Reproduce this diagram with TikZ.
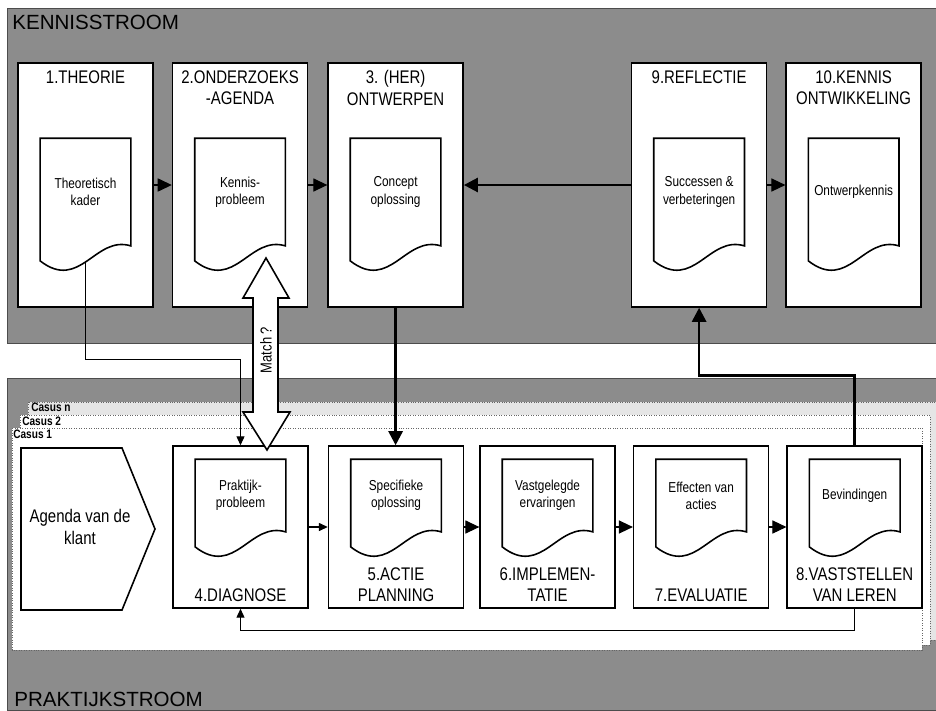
\documentclass[tikz,border=0pt]{standalone}
\usepackage{fontspec}
\setmainfont{Liberation Sans}
\newfontfamily\narrowfont[FakeStretch=0.82]{Liberation Sans}
\usetikzlibrary{arrows.meta,positioning,calc}

\begin{document}
\begin{tikzpicture}[
  x=0.02cm, y=-0.02cm,
  every node/.style={font=\narrowfont\fontsize{10.4}{12.2}\selectfont},
  panel/.style={draw=black!70, fill=black!45},
  casus/.style={draw=black!60, densely dotted, line width=0.4pt},
  stage/.style={draw, fill=white, line width=0.9pt, minimum width=2.7cm},
  topstage/.style={stage, minimum height=4.88cm},
  lowstage/.style={stage, minimum height=3.24cm},
  doc/.style={minimum width=1.8cm, align=center, inner sep=1pt,
              font=\narrowfont\fontsize{8.2}{9.8}\selectfont},
  topdoc/.style={doc, minimum height=2.14cm},
  lowdoc/.style={doc, minimum height=1.44cm},
  title/.style={align=center, inner sep=1pt},
  casuslabel/.style={inner sep=0pt, anchor=west,
                     font=\narrowfont\fontsize{7}{8}\selectfont\bfseries},
  flow/.style={-{Triangle[length=8pt,width=7.5pt]}, line width=0.6pt},
  thinflow/.style={-{Triangle[length=5pt,width=4.5pt]}, line width=0.6pt},
  heavy/.style={-{Triangle[length=8pt,width=8pt]}, line width=1.5pt},
]
\useasboundingbox (0,0) rectangle (936,710);

% the two streams
\draw[panel] (7,8) rectangle (936,343);
\draw[panel] (7,378) rectangle (936,710);
\node[anchor=north west, inner sep=0pt, font=\fontsize{11.7}{14}\selectfont] (kennis) at (12,15) {KENNISSTROOM};
\node[anchor=south west, inner sep=0pt, font=\fontsize{11.7}{14}\selectfont] (praktijk) at (14,707) {PRAKTIJKSTROOM};

% cases
\draw[casus, fill=black!10] (28,402) rectangle (936,640);
\draw[casus, fill=white] (20,415) rectangle (930,645);
\draw[casus, fill=white] (12,428) rectangle (922,650);
\node[casuslabel] (casusn) at (31,407) {Casus n};
\node[casuslabel] (casus2) at (22,421) {Casus 2};
\node[casuslabel] (casus1) at (13,434) {Casus 1};

\draw[line width=0.9pt, fill=white] (21,448) -- (122,448) -- (155,529) -- (122,610) -- (21,610) -- cycle;
\node[align=center, font=\narrowfont\fontsize{10.4}{12}\selectfont] (agenda) at (80,527) {Agenda van de\\klant};

% knowledge stream
\node[topstage] (b1) at (85.5,185) {};
\node[topstage, right=0.36cm of b1] (b2) {};
\node[topstage, right=0.38cm of b2] (b3) {};
\node[topstage, right=3.34cm of b3] (b9) {};
\node[topstage, right=0.36cm of b9] (b10) {};

\node[title, below=0.12cm of b1.north] (t1) {1.THEORIE};
\node[title, below=0.12cm of b2.north] (t2) {2.ONDERZOEKS\\-AGENDA};
\node[title, below=0.12cm of b3.north] (t3) {3. (HER)\\ONTWERPEN};
\node[title, below=0.12cm of b9.north] (t9) {9.REFLECTIE};
\node[title, below=0.12cm of b10.north] (t10) {10.KENNIS\\ONTWIKKELING};

\node[topdoc, below=1.52cm of b1.north] (d1) {Theoretisch\\kader};
\node[topdoc, below=1.52cm of b2.north] (d2) {Kennis-\\probleem};
\node[topdoc, below=1.52cm of b3.north] (d3) {Concept\\oplossing};
\node[topdoc, below=1.52cm of b9.north] (d9) {Successen \&\\verbeteringen};
\node[topdoc, below=1.52cm of b10.north] (d10) {Ontwerpkennis};

% practice stream
\node[lowstage] (b4) at (240.5,527) {};
\node[lowstage, right=0.38cm of b4] (b5) {};
\node[lowstage, right=0.3cm of b5] (b6) {};
\node[lowstage, right=0.34cm of b6] (b7) {};
\node[lowstage, right=0.34cm of b7] (b8) {};

\node[title, above=0.1cm of b4.south] (t4) {4.DIAGNOSE};
\node[title, above=0.1cm of b5.south] (t5) {5.ACTIE\\PLANNING};
\node[title, above=0.1cm of b6.south] (t6) {6.IMPLEMEN-\\TATIE};
\node[title, above=0.1cm of b7.south] (t7) {7.EVALUATIE};
\node[title, above=0.1cm of b8.south] (t8) {8.VASTSTELLEN\\VAN LEREN};

\node[lowdoc, below=0.28cm of b4.north] (d4) {Praktijk-\\probleem};
\node[lowdoc, below=0.28cm of b5.north] (d5) {Specifieke\\oplossing};
\node[lowdoc, below=0.28cm of b6.north] (d6) {Vastgelegde\\ervaringen};
\node[lowdoc, below=0.28cm of b7.north] (d7) {Effecten van\\acties};
\node[lowdoc, below=0.28cm of b8.north] (d8) {Bevindingen};

% document outlines
\foreach \d in {d1,d2,d3,d9,d10,d4,d5,d6,d7,d8}
  \draw[line width=0.9pt] (\d.north west) -- (\d.north east) -- (\d.south east)
    .. controls ($(\d.south west)+(55,-11)$) and ($(\d.south west)+(40,46)$)
    .. ($(\d.south west)+(0,15)$) -- cycle;

% connectors
\draw[flow] (b1) -- (b2);
\draw[flow] (b2) -- (b3);
\draw[heavy] (b9) -- (b3);
\draw[flow] (b9) -- (b10);
\draw[thinflow] (b4) -- (b5);
\draw[flow] (b5) -- (b6);
\draw[flow] (b6) -- (b7);
\draw[flow] (b7) -- (b8);
\draw[heavy] (b3.south) -- (b3.south |- b5.north);
\draw[heavy] (b8.north) -- ++(0,-70) -| (b9.south);
\draw[thinflow] (b8.south) -- ++(0,22) -| (b4.south);
\draw[thinflow] ($(d1.south)+(0,15)$) -- ++(0,99) -| (b4.north);

% match ?
\draw[line width=0.9pt, fill=white] (253,298) -- (243,298) -- (266,258) -- (289,298)
  -- (278,298) -- (278,412) -- (290,412) -- (267,450) -- (243,412) -- (253,412) -- cycle;
\node[rotate=90, font=\narrowfont\fontsize{9}{10}\selectfont] (match) at (266,350) {Match ?};
\end{tikzpicture}
\end{document}
